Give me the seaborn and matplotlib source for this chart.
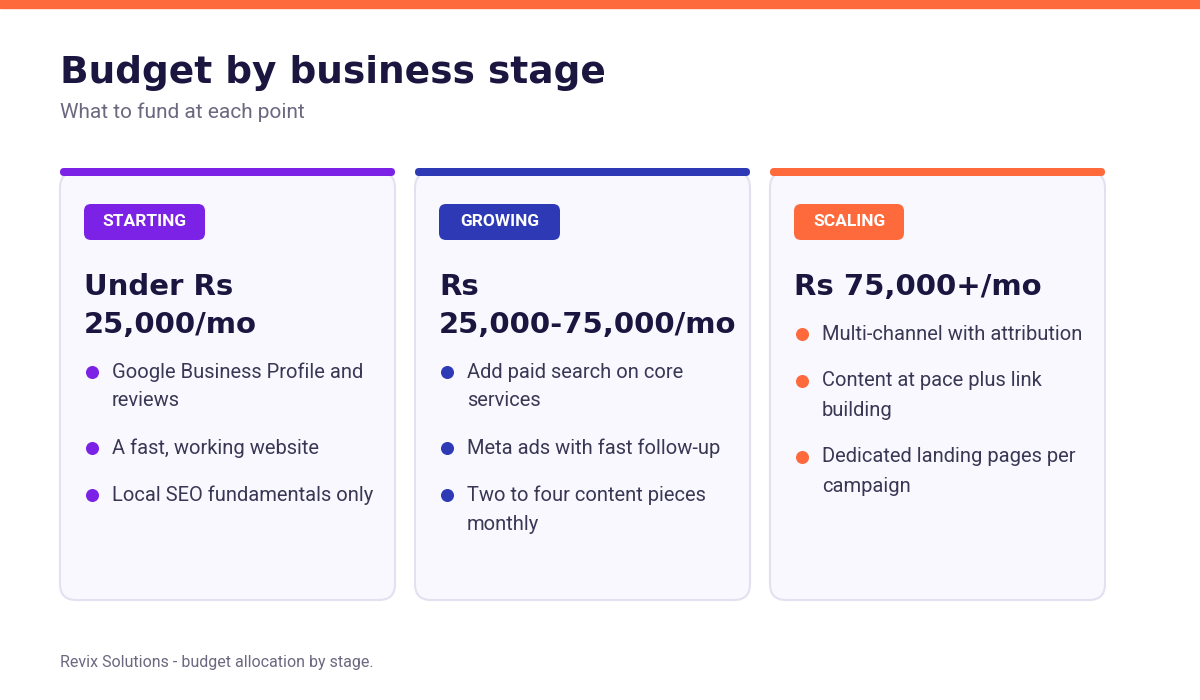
import matplotlib
matplotlib.use("Agg")
import matplotlib.pyplot as plt
import seaborn as sns
from matplotlib.patches import FancyBboxPatch, Rectangle

sns.set_theme(style="white")
plt.rcParams["font.family"] = ["Roboto", "DejaVu Sans"]

# content of the three cards
stages = ["STARTING", "GROWING", "SCALING"]
budgets = [["Under Rs", "25,000/mo"], ["Rs", "25,000-75,000/mo"], ["Rs 75,000+/mo"]]
bullets = [
    [["Google Business Profile and", "reviews"], ["A fast, working website"], ["Local SEO fundamentals only"]],
    [["Add paid search on core", "services"], ["Meta ads with fast follow-up"], ["Two to four content pieces", "monthly"]],
    [["Multi-channel with attribution"], ["Content at pace plus link", "building"], ["Dedicated landing pages per", "campaign"]],
]
colors = ["#7B22E6", "#2E3AB5", "#FF6A3D"]

navy = "#1B1640"
gray = "#6B6880"
body = "#3A3755"

fig = plt.figure(figsize=(12, 7), dpi=100)
ax = fig.add_axes([0, 0, 1, 1])
ax.set_xlim(0, 1200)
ax.set_ylim(700, 0)
ax.axis("off")

ax.add_patch(Rectangle((0, 0), 1200, 8, color="#FF6A3D"))
ax.text(60, 73, "Budget by business stage", fontsize=27, fontweight="bold",
        color=navy, va="center", family=["DejaVu Sans"])
ax.text(60, 112, "What to fund at each point", fontsize=15, color=gray, va="center")

for i, stage in enumerate(stages):
    x0 = 60 + i * 355
    w = 335
    card = FancyBboxPatch((x0, 172), w, 428, boxstyle="round,pad=0,rounding_size=16",
                          facecolor="#F8F8FE", edgecolor="#E2E1F0", lw=1.5)
    ax.add_patch(card)
    ax.add_patch(FancyBboxPatch((x0, 168), w, 8, boxstyle="round,pad=0,rounding_size=4",
                                color=colors[i], lw=0))
    bw = 121 if i < 2 else 110
    ax.add_patch(FancyBboxPatch((x0 + 24, 204), bw, 36, boxstyle="round,pad=0,rounding_size=7",
                                color=colors[i], lw=0))
    ax.text(x0 + 24 + bw / 2, 222, stage, fontsize=12.5, fontweight="bold",
            color="white", ha="center", va="center")
    y = 287
    for line in budgets[i]:
        ax.text(x0 + 24, y, line, fontsize=21, fontweight="bold", color=navy,
                va="center", family=["DejaVu Sans"])
        y += 38
    y += 9
    for item in bullets[i]:
        ax.scatter([x0 + 32], [y], s=70, color=colors[i], zorder=3)
        for line in item:
            ax.text(x0 + 52, y, line, fontsize=14.5, color=body, va="center")
            y += 29
        y += 18

ax.text(60, 662, "Revix Solutions - budget allocation by stage.", fontsize=11.5,
        color=gray, va="center")

fig.savefig("out.png", dpi=100)
